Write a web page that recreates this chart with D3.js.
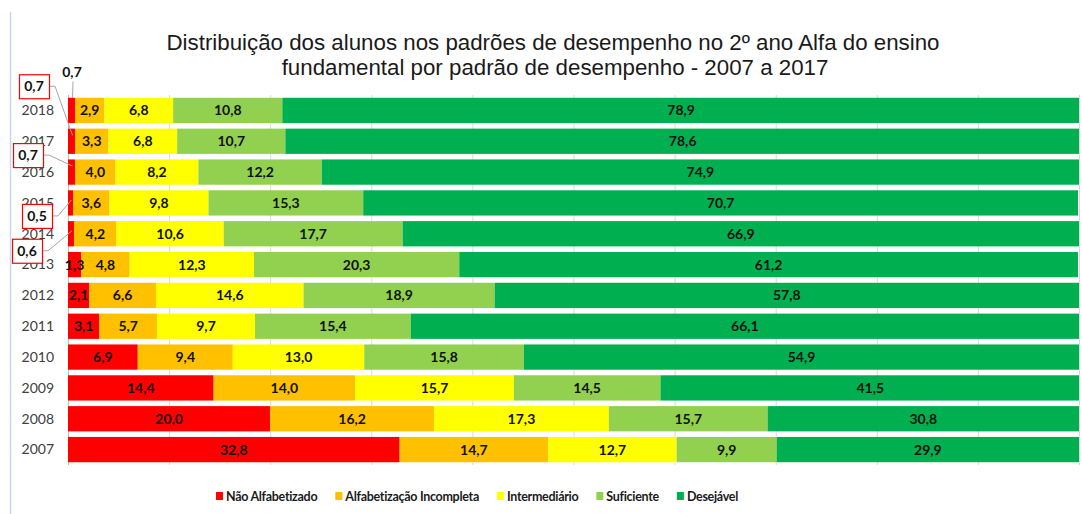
<!DOCTYPE html>
<html>
<head>
<meta charset="utf-8">
<script src="https://cdn.jsdelivr.net/npm/d3@7"></script>
<style>
  body { margin: 0; background: #fff; }
  svg { display: block; }
</style>
</head>
<body>
<div id="chart"></div>
<script>
// data, top row first
var years = ['2018', '2017', '2016', '2015', '2014', '2013', '2012', '2011', '2010', '2009', '2008', '2007'];
var naoAlfabetizado = [0.7, 0.7, 0.7, 0.5, 0.6, 1.3, 2.1, 3.1, 6.9, 14.4, 20.0, 32.8];
var alfabIncompleta = [2.9, 3.3, 4.0, 3.6, 4.2, 4.8, 6.6, 5.7, 9.4, 14.0, 16.2, 14.7];
var intermediario = [6.8, 6.8, 8.2, 9.8, 10.6, 12.3, 14.6, 9.7, 13.0, 15.7, 17.3, 12.7];
var suficiente = [10.8, 10.7, 12.2, 15.3, 17.7, 20.3, 18.9, 15.4, 15.8, 14.5, 15.7, 9.9];
var desejavel = [78.9, 78.6, 74.9, 70.7, 66.9, 61.2, 57.8, 66.1, 54.9, 41.5, 30.8, 29.9];
var seriesNames = ['Não Alfabetizado', 'Alfabetização Incompleta', 'Intermediário', 'Suficiente', 'Desejável'];
var gridTicks = [0, 10, 20, 30, 40, 50, 60, 70, 80, 90, 100];

var colors = ['#ff0000', '#ffc000', '#ffff00', '#92d050', '#00b050'];
var allSeries = [naoAlfabetizado, alfabIncompleta, intermediario, suficiente, desejavel];

var width = 1082;
var height = 514;

var rows = years.map(function(y, i) {
  var r = { year: y };
  seriesNames.forEach(function(s, k) { r[s] = allSeries[k][i]; });
  return r;
});

var svg = d3.select('#chart')
  .append('svg')
  .attr('width', width)
  .attr('height', height);

// light frame line on the left
svg.append('line')
  .attr('x1', 10.5).attr('x2', 10.5)
  .attr('y1', 12).attr('y2', height)
  .attr('stroke', '#c9d8ec')
  .attr('stroke-width', 1.5);

var x = d3.scaleLinear().domain([0, 100]).range([68, 1079]);
var y = d3.scaleBand().domain(years).range([95, 465]).paddingInner(0.18).paddingOuter(0.09);

// title
var title = svg.append('text')
  .attr('text-anchor', 'middle')
  .attr('font-family', '"Liberation Sans", Arial, sans-serif')
  .attr('font-size', 22.3)
  .attr('fill', '#1a1a1a');
title.append('tspan').attr('x', 553).attr('y', 50)
  .text('Distribuição dos alunos nos padrões de desempenho no 2º ano Alfa do ensino');
title.append('tspan').attr('x', 555).attr('y', 75)
  .text('fundamental por padrão de desempenho - 2007 a 2017');

// vertical grid
svg.append('g')
  .selectAll('line')
  .data(gridTicks)
  .join('line')
  .attr('x1', function(d) { return x(d) + 0.5; })
  .attr('x2', function(d) { return x(d) + 0.5; })
  .attr('y1', 95)
  .attr('y2', 465)
  .attr('stroke', function(d) { return d === 0 ? '#bfbfbf' : '#d9d9d9'; })
  .attr('stroke-width', 1);

// year labels
svg.append('g')
  .selectAll('text')
  .data(years)
  .join('text')
  .attr('x', 54)
  .attr('y', function(d) { return y(d) + y.bandwidth() / 2; })
  .attr('dy', '0.35em')
  .attr('text-anchor', 'end')
  .attr('font-family', 'Lato, sans-serif')
  .attr('font-size', 14)
  .attr('fill', '#404040')
  .text(function(d) { return d; });

var stack = d3.stack().keys(seriesNames);
var layers = stack(rows);

var fmt = function(v) { return v.toFixed(1).replace('.', ','); };

var layerG = svg.append('g')
  .selectAll('g')
  .data(layers)
  .join('g')
  .attr('fill', function(d, i) { return colors[i]; });

layerG.selectAll('rect')
  .data(function(d) { return d; })
  .join('rect')
  .attr('x', function(d) { return x(d[0]); })
  .attr('y', function(d) { return y(d.data.year); })
  .attr('width', function(d) { return Math.min(x(d[1]), x(100)) - x(d[0]); })
  .attr('height', y.bandwidth());

// in-bar labels (small red ones for 2014-2018 get callouts instead)
var calloutYears = ['2018', '2017', '2016', '2015', '2014'];
layers.forEach(function(layer, k) {
  svg.append('g')
    .selectAll('text')
    .data(layer.filter(function(d) { return !(k === 0 && calloutYears.indexOf(d.data.year) >= 0); }))
    .join('text')
    .attr('x', function(d) { return (x(d[0]) + x(d[1])) / 2; })
    .attr('y', function(d) { return y(d.data.year) + y.bandwidth() / 2; })
    .attr('dy', '0.36em')
    .attr('text-anchor', 'middle')
    .attr('font-family', 'Lato, sans-serif')
    .attr('font-weight', 'bold')
    .attr('font-size', 14)
    .attr('fill', '#111')
    .text(function(d) { return fmt(d[1] - d[0]); });
});

// callouts for the thin red segments
var callouts = [
  { year: '2018', dx: 4, dy: -38, box: false },
  { year: '2017', dx: -34, dy: -55, box: true },
  { year: '2016', dx: -40, dy: -17, box: true },
  { year: '2015', dx: -31, dy: 13, box: true },
  { year: '2014', dx: -41, dy: 17, box: true }
];
var cg = svg.append('g');
callouts.forEach(function(c) {
  var i = years.indexOf(c.year);
  var v = naoAlfabetizado[i];
  var ax = x(v / 2) + 1;
  var yc = y(c.year) + y.bandwidth() / 2;
  var cx = x(0) + c.dx;
  var cy = yc + c.dy;
  var pts;
  if (c.box) {
    var ex = cx + 15;
    var ay = c.dy < 0 ? yc - 6 : yc - 3;
    pts = [[ex, cy], [ex + 6, cy], [ax, ay]];
  } else {
    pts = [[cx + 1, cy + 9], [ax, y(c.year)]];
  }
  cg.append('path')
    .attr('d', d3.line()(pts))
    .attr('fill', 'none')
    .attr('stroke', '#a6a6a6')
    .attr('stroke-width', 1);
  if (c.box) {
    cg.append('rect')
      .attr('x', cx - 15 + 0.5)
      .attr('y', cy - 12 + 0.5)
      .attr('width', 30)
      .attr('height', 24)
      .attr('fill', '#fff')
      .attr('stroke', '#ff0000')
      .attr('stroke-width', 1.2);
  }
  cg.append('text')
    .attr('x', cx)
    .attr('y', cy)
    .attr('dy', '0.36em')
    .attr('text-anchor', 'middle')
    .attr('font-family', 'Lato, sans-serif')
    .attr('font-weight', 'bold')
    .attr('font-size', 14)
    .attr('fill', '#111')
    .text(fmt(v));
});

// legend
var legend = svg.append('g').attr('transform', 'translate(216,496)');
var lx = 0;
seriesNames.forEach(function(name, i) {
  var item = legend.append('g').attr('transform', 'translate(' + lx + ',0)');
  item.append('rect')
    .attr('x', 0).attr('y', -4)
    .attr('width', 7).attr('height', 8)
    .attr('fill', colors[i]);
  var t = item.append('text')
    .attr('x', 10)
    .attr('dy', '0.36em')
    .attr('font-family', 'Lato, sans-serif')
    .attr('font-weight', 'bold')
    .attr('font-size', 12.5)
    .attr('letter-spacing', -0.3)
    .attr('fill', '#1a1a1a')
    .text(name);
  lx += 10 + t.node().getComputedTextLength() + 18;
});
</script>
</body>
</html>
